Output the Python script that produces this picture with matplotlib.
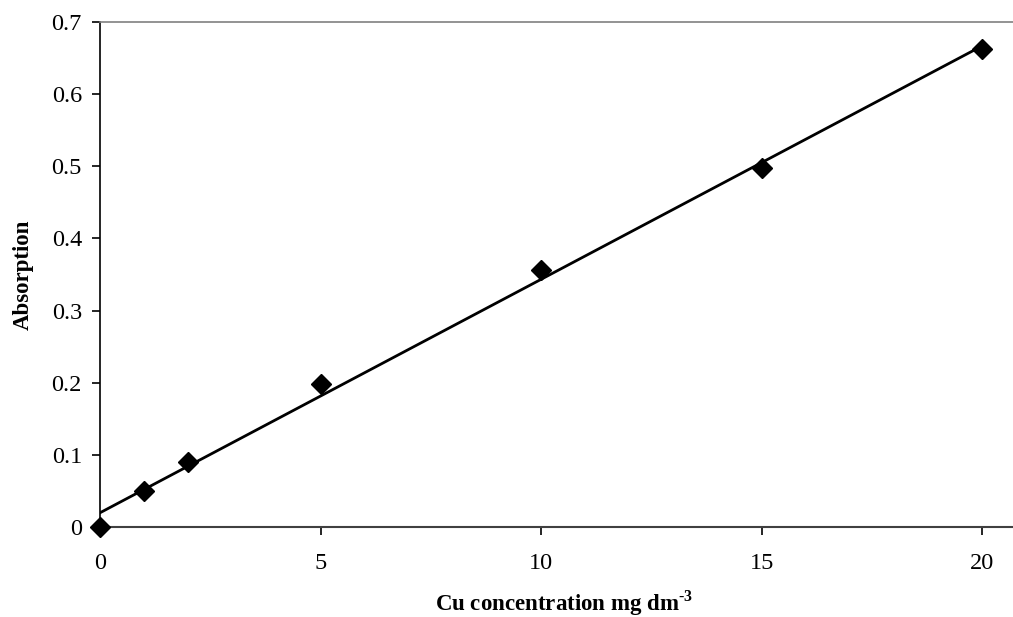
import numpy as np
import matplotlib.pyplot as plt

# Copper calibration standards
concentration = [0, 1, 2, 5, 10, 15, 20]
absorption = [0.0, 0.05, 0.09, 0.198, 0.356, 0.497, 0.662]

x_ticks = [0, 5, 10, 15, 20]
y_ticks = [0, 0.1, 0.2, 0.3, 0.4, 0.5, 0.6, 0.7]

plt.rcParams['font.family'] = ['Liberation Serif', 'DejaVu Serif']
plt.rcParams['mathtext.fontset'] = 'custom'
plt.rcParams['mathtext.rm'] = 'Liberation Serif:bold'
plt.rcParams['mathtext.bf'] = 'Liberation Serif:bold'

fig = plt.figure(figsize=(10.13, 6.17), dpi=100)
ax = fig.add_axes([100 / 1013, 1 - 527 / 617, 913 / 1013, 505 / 617])

# linear trendline through the standards
slope, intercept = np.polyfit(concentration, absorption, 1)
fit_x = np.array([0, 20])
ax.plot(fit_x, slope * fit_x + intercept, color='black', linewidth=2)

ax.plot(concentration, absorption, linestyle='none', marker='D',
        markersize=10, color='black', clip_on=False, zorder=3)

ax.set_xlim(0, 20.7)
ax.set_ylim(0, 0.7)
ax.set_xticks(x_ticks)
ax.set_xticklabels([str(t) for t in x_ticks])
ax.set_yticks(y_ticks)
ax.set_yticklabels(['0'] + [f'{t:.1f}' for t in y_ticks[1:]])

ax.spines['right'].set_visible(False)
ax.spines['top'].set_color('#808080')
ax.spines['top'].set_linewidth(1.2)
ax.spines['bottom'].set_color('#404040')
ax.spines['bottom'].set_linewidth(1.5)
ax.spines['left'].set_color('black')
ax.spines['left'].set_linewidth(1.2)

ax.tick_params(axis='y', direction='out', length=6, width=1.2, labelsize=17.5, pad=7)
ax.tick_params(axis='x', direction='out', length=6, width=1.2, labelsize=17.5, pad=13)

ax.set_xlabel(r'Cu concentration mg dm$^{\text{-}3}$', fontsize=16.5,
              fontweight='bold', labelpad=10)
ax.xaxis.label.set_x(0.508)
ax.set_ylabel('Absorption', fontsize=16.5, fontweight='bold', labelpad=13)

fig.savefig('out.png', dpi=100)
